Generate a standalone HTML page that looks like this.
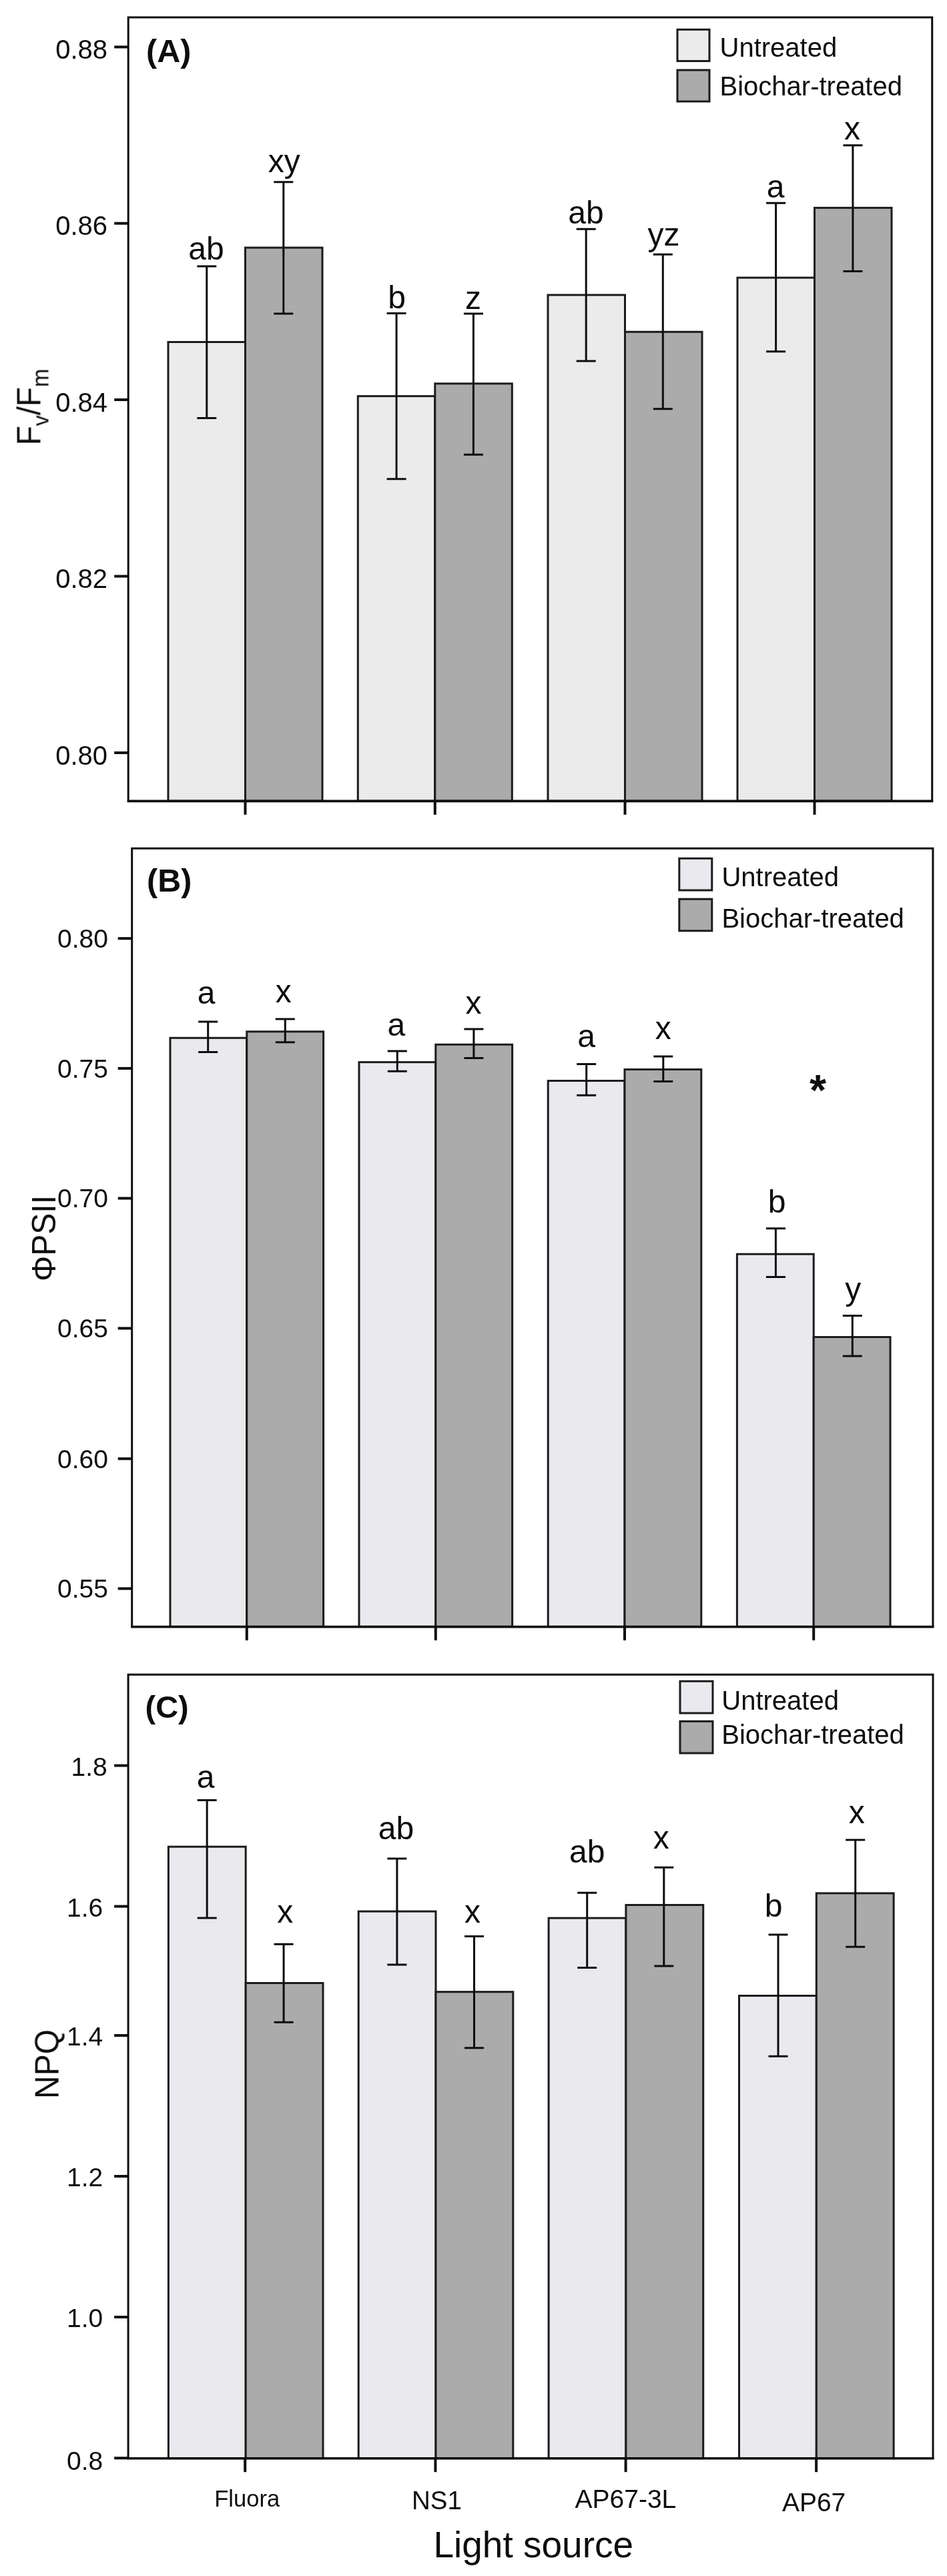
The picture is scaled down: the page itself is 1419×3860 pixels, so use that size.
<!DOCTYPE html>
<html><head><meta charset="utf-8"><title>Figure</title>
<style>html,body{margin:0;padding:0;background:#fff}svg{display:block}text{font-family:"Liberation Sans",Arial,sans-serif;fill:#111}</style>
</head><body>
<svg width="1419" height="3860" viewBox="0 0 1419 3860">
<defs><filter id="soft" x="0" y="0" width="1419" height="3860" filterUnits="userSpaceOnUse"><feGaussianBlur stdDeviation="0.55"/></filter></defs>
<rect width="1419" height="3860" fill="#fff"/>
<g filter="url(#soft)">
<rect x="252.0" y="512.5" width="115.5" height="687.7" fill="#ebebeb" stroke="#1c1c1c" stroke-width="3"/>
<rect x="367.5" y="371.1" width="115.5" height="829.1" fill="#ababab" stroke="#1c1c1c" stroke-width="3"/>
<rect x="536.3" y="593.6" width="115.5" height="606.6" fill="#ebebeb" stroke="#1c1c1c" stroke-width="3"/>
<rect x="651.8" y="574.8" width="115.5" height="625.4" fill="#ababab" stroke="#1c1c1c" stroke-width="3"/>
<rect x="821.0" y="442.0" width="115.5" height="758.2" fill="#ebebeb" stroke="#1c1c1c" stroke-width="3"/>
<rect x="936.5" y="497.3" width="115.5" height="702.9" fill="#ababab" stroke="#1c1c1c" stroke-width="3"/>
<rect x="1105.0" y="416.1" width="115.5" height="784.1" fill="#ebebeb" stroke="#1c1c1c" stroke-width="3"/>
<rect x="1220.5" y="311.4" width="115.5" height="888.8" fill="#ababab" stroke="#1c1c1c" stroke-width="3"/>
<path d="M309.8 399.0V626.5M295.3 399.0H324.3M295.3 626.5H324.3" stroke="#111" stroke-width="3" fill="none"/>
<path d="M424.8 272.8V470.0M410.3 272.8H439.3M410.3 470.0H439.3" stroke="#111" stroke-width="3" fill="none"/>
<path d="M594.1 469.4V717.8M579.6 469.4H608.6M579.6 717.8H608.6" stroke="#111" stroke-width="3" fill="none"/>
<path d="M709.4 469.9V681.3M694.9 469.9H723.9M694.9 681.3H723.9" stroke="#111" stroke-width="3" fill="none"/>
<path d="M878.2 343.2V540.9M863.7 343.2H892.7M863.7 540.9H892.7" stroke="#111" stroke-width="3" fill="none"/>
<path d="M993.3 381.2V612.8M978.8 381.2H1007.8M978.8 612.8H1007.8" stroke="#111" stroke-width="3" fill="none"/>
<path d="M1162.6 304.3V526.8M1148.1 304.3H1177.1M1148.1 526.8H1177.1" stroke="#111" stroke-width="3" fill="none"/>
<path d="M1277.9 217.8V406.4M1263.4 217.8H1292.4M1263.4 406.4H1292.4" stroke="#111" stroke-width="3" fill="none"/>
<rect x="192.2" y="26.0" width="1204.5" height="1174.2" fill="none" stroke="#111" stroke-width="3"/>
<line x1="190.7" x2="1398.2" y1="1200.5" y2="1200.5" stroke="#111" stroke-width="3.4"/>
<line x1="171.2" x2="192.2" y1="70.4" y2="70.4" stroke="#111" stroke-width="4"/>
<text x="161.0" y="88.0" font-size="40" text-anchor="end">0.88</text>
<line x1="171.2" x2="192.2" y1="334.7" y2="334.7" stroke="#111" stroke-width="4"/>
<text x="161.0" y="352.3" font-size="40" text-anchor="end">0.86</text>
<line x1="171.2" x2="192.2" y1="599.0" y2="599.0" stroke="#111" stroke-width="4"/>
<text x="161.0" y="616.6" font-size="40" text-anchor="end">0.84</text>
<line x1="171.2" x2="192.2" y1="863.5" y2="863.5" stroke="#111" stroke-width="4"/>
<text x="161.0" y="881.1" font-size="40" text-anchor="end">0.82</text>
<line x1="171.2" x2="192.2" y1="1128.0" y2="1128.0" stroke="#111" stroke-width="4"/>
<text x="161.0" y="1145.6" font-size="40" text-anchor="end">0.80</text>
<line x1="367.5" x2="367.5" y1="1200.2" y2="1220.8" stroke="#111" stroke-width="4"/>
<line x1="651.8" x2="651.8" y1="1200.2" y2="1220.8" stroke="#111" stroke-width="4"/>
<line x1="936.5" x2="936.5" y1="1200.2" y2="1220.8" stroke="#111" stroke-width="4"/>
<line x1="1220.5" x2="1220.5" y1="1200.2" y2="1220.8" stroke="#111" stroke-width="4"/>
<text x="309.0" y="388.8" font-size="48" text-anchor="middle">ab</text>
<text x="425.8" y="258.0" font-size="48" text-anchor="middle">xy</text>
<text x="594.6" y="461.8" font-size="48" text-anchor="middle">b</text>
<text x="709.0" y="463.3" font-size="48" text-anchor="middle">z</text>
<text x="878.0" y="335.0" font-size="48" text-anchor="middle">ab</text>
<text x="994.5" y="367.5" font-size="48" text-anchor="middle">yz</text>
<text x="1162.0" y="296.2" font-size="48" text-anchor="middle">a</text>
<text x="1277.0" y="208.5" font-size="48" text-anchor="middle">x</text>
<text x="219.0" y="93.2" font-size="48.5" font-weight="bold">(A)</text>
<rect x="1015.0" y="44.3" width="48.0" height="47.2" fill="#ebebeb" stroke="#1a1a1a" stroke-width="3"/>
<rect x="1015.0" y="105.0" width="48.0" height="47.0" fill="#ababab" stroke="#1a1a1a" stroke-width="3"/>
<text x="1078.5" y="85.3" font-size="40">Untreated</text>
<text x="1078.5" y="142.9" font-size="40">Biochar-treated</text>
<text transform="translate(60.3 667.3) rotate(-90) scale(1 1.04)" font-size="48" letter-spacing="-0.2">F<tspan font-size="32" dy="12">v</tspan><tspan dy="-12">/F</tspan><tspan font-size="33" dy="12">m</tspan></text>
<rect x="255.0" y="1555.3" width="114.8" height="882.1" fill="#e9e9ee" stroke="#1c1c1c" stroke-width="3"/>
<rect x="369.8" y="1545.8" width="114.8" height="891.6" fill="#ababab" stroke="#1c1c1c" stroke-width="3"/>
<rect x="538.0" y="1591.6" width="114.8" height="845.8" fill="#e9e9ee" stroke="#1c1c1c" stroke-width="3"/>
<rect x="652.8" y="1565.2" width="114.8" height="872.2" fill="#ababab" stroke="#1c1c1c" stroke-width="3"/>
<rect x="821.2" y="1619.5" width="114.8" height="817.9" fill="#e9e9ee" stroke="#1c1c1c" stroke-width="3"/>
<rect x="936.0" y="1602.5" width="114.8" height="834.9" fill="#ababab" stroke="#1c1c1c" stroke-width="3"/>
<rect x="1104.4" y="1879.2" width="114.8" height="558.2" fill="#e9e9ee" stroke="#1c1c1c" stroke-width="3"/>
<rect x="1219.2" y="2003.5" width="114.8" height="433.9" fill="#ababab" stroke="#1c1c1c" stroke-width="3"/>
<path d="M311.7 1530.9V1576.5M297.2 1530.9H326.2M297.2 1576.5H326.2" stroke="#111" stroke-width="3" fill="none"/>
<path d="M427.3 1526.9V1561.8M412.8 1526.9H441.8M412.8 1561.8H441.8" stroke="#111" stroke-width="3" fill="none"/>
<path d="M595.3 1574.9V1605.3M580.8 1574.9H609.8M580.8 1605.3H609.8" stroke="#111" stroke-width="3" fill="none"/>
<path d="M709.9 1541.9V1585.5M695.4 1541.9H724.4M695.4 1585.5H724.4" stroke="#111" stroke-width="3" fill="none"/>
<path d="M878.7 1594.6V1641.3M864.2 1594.6H893.2M864.2 1641.3H893.2" stroke="#111" stroke-width="3" fill="none"/>
<path d="M993.8 1583.0V1620.4M979.3 1583.0H1008.3M979.3 1620.4H1008.3" stroke="#111" stroke-width="3" fill="none"/>
<path d="M1162.4 1840.7V1913.4M1147.9 1840.7H1176.9M1147.9 1913.4H1176.9" stroke="#111" stroke-width="3" fill="none"/>
<path d="M1277.3 1971.4V2032.0M1262.8 1971.4H1291.8M1262.8 2032.0H1291.8" stroke="#111" stroke-width="3" fill="none"/>
<rect x="197.7" y="1271.3" width="1200.2" height="1166.1" fill="none" stroke="#111" stroke-width="3"/>
<line x1="196.2" x2="1399.4" y1="2437.7" y2="2437.7" stroke="#111" stroke-width="3.4"/>
<line x1="176.7" x2="197.7" y1="1406.2" y2="1406.2" stroke="#111" stroke-width="4"/>
<text x="162.0" y="1420.0" font-size="39" text-anchor="end">0.80</text>
<line x1="176.7" x2="197.7" y1="1600.9" y2="1600.9" stroke="#111" stroke-width="4"/>
<text x="162.0" y="1614.7" font-size="39" text-anchor="end">0.75</text>
<line x1="176.7" x2="197.7" y1="1795.6" y2="1795.6" stroke="#111" stroke-width="4"/>
<text x="162.0" y="1809.4" font-size="39" text-anchor="end">0.70</text>
<line x1="176.7" x2="197.7" y1="1990.4" y2="1990.4" stroke="#111" stroke-width="4"/>
<text x="162.0" y="2004.2" font-size="39" text-anchor="end">0.65</text>
<line x1="176.7" x2="197.7" y1="2185.8" y2="2185.8" stroke="#111" stroke-width="4"/>
<text x="162.0" y="2199.6" font-size="39" text-anchor="end">0.60</text>
<line x1="176.7" x2="197.7" y1="2380.4" y2="2380.4" stroke="#111" stroke-width="4"/>
<text x="162.0" y="2394.2" font-size="39" text-anchor="end">0.55</text>
<line x1="369.8" x2="369.8" y1="2437.4" y2="2458.0" stroke="#111" stroke-width="4"/>
<line x1="652.8" x2="652.8" y1="2437.4" y2="2458.0" stroke="#111" stroke-width="4"/>
<line x1="936.0" x2="936.0" y1="2437.4" y2="2458.0" stroke="#111" stroke-width="4"/>
<line x1="1219.2" x2="1219.2" y1="2437.4" y2="2458.0" stroke="#111" stroke-width="4"/>
<text x="309.2" y="1503.5" font-size="48" text-anchor="middle">a</text>
<text x="424.7" y="1502.0" font-size="48" text-anchor="middle">x</text>
<text x="593.8" y="1551.5" font-size="48" text-anchor="middle">a</text>
<text x="709.4" y="1519.1" font-size="48" text-anchor="middle">x</text>
<text x="878.7" y="1569.3" font-size="48" text-anchor="middle">a</text>
<text x="993.8" y="1556.6" font-size="48" text-anchor="middle">x</text>
<text x="1164.0" y="1816.9" font-size="48" text-anchor="middle">b</text>
<text x="1278.3" y="1947.6" font-size="48" text-anchor="middle">y</text>
<text x="220.0" y="1335.8" font-size="48.5" font-weight="bold">(B)</text>
<rect x="1017.8" y="1286.3" width="49.0" height="47.7" fill="#e9e9ee" stroke="#1a1a1a" stroke-width="3"/>
<rect x="1017.8" y="1347.2" width="49.0" height="47.6" fill="#ababab" stroke="#1a1a1a" stroke-width="3"/>
<text x="1081.4" y="1328.0" font-size="40">Untreated</text>
<text x="1081.4" y="1389.6" font-size="40">Biochar-treated</text>
<text transform="translate(82.8 1920) rotate(-90) scale(1 1.04)" font-size="48">ΦPSII</text>
<rect x="252.4" y="2767.2" width="115.8" height="916.4" fill="#e9e9ee" stroke="#1c1c1c" stroke-width="3"/>
<rect x="368.2" y="2971.5" width="115.8" height="712.1" fill="#ababab" stroke="#1c1c1c" stroke-width="3"/>
<rect x="537.2" y="2864.1" width="115.8" height="819.5" fill="#e9e9ee" stroke="#1c1c1c" stroke-width="3"/>
<rect x="653.0" y="2984.7" width="115.8" height="698.9" fill="#ababab" stroke="#1c1c1c" stroke-width="3"/>
<rect x="822.1" y="2874.1" width="115.8" height="809.5" fill="#e9e9ee" stroke="#1c1c1c" stroke-width="3"/>
<rect x="937.9" y="2854.5" width="115.8" height="829.1" fill="#ababab" stroke="#1c1c1c" stroke-width="3"/>
<rect x="1107.5" y="2990.5" width="115.8" height="693.1" fill="#e9e9ee" stroke="#1c1c1c" stroke-width="3"/>
<rect x="1223.3" y="2836.9" width="115.8" height="846.7" fill="#ababab" stroke="#1c1c1c" stroke-width="3"/>
<path d="M310.2 2697.4V2874.0M295.7 2697.4H324.7M295.7 2874.0H324.7" stroke="#111" stroke-width="3" fill="none"/>
<path d="M425.1 2913.2V3030.3M410.6 2913.2H439.6M410.6 3030.3H439.6" stroke="#111" stroke-width="3" fill="none"/>
<path d="M594.9 2785.0V2944.1M580.4 2785.0H609.4M580.4 2944.1H609.4" stroke="#111" stroke-width="3" fill="none"/>
<path d="M710.5 2901.6V3068.8M696.0 2901.6H725.0M696.0 3068.8H725.0" stroke="#111" stroke-width="3" fill="none"/>
<path d="M879.7 2836.2V2948.6M865.2 2836.2H894.2M865.2 2948.6H894.2" stroke="#111" stroke-width="3" fill="none"/>
<path d="M994.8 2798.3V2946.0M980.3 2798.3H1009.3M980.3 2946.0H1009.3" stroke="#111" stroke-width="3" fill="none"/>
<path d="M1166.0 2899.0V3081.3M1151.5 2899.0H1180.5M1151.5 3081.3H1180.5" stroke="#111" stroke-width="3" fill="none"/>
<path d="M1281.7 2757.1V2917.3M1267.2 2757.1H1296.2M1267.2 2917.3H1296.2" stroke="#111" stroke-width="3" fill="none"/>
<rect x="192.1" y="2509.3" width="1205.9" height="1174.3" fill="none" stroke="#111" stroke-width="3"/>
<line x1="190.6" x2="1399.5" y1="3683.9" y2="3683.9" stroke="#111" stroke-width="3.4"/>
<line x1="171.1" x2="192.1" y1="2645.6" y2="2645.6" stroke="#111" stroke-width="4"/>
<text x="160.8" y="2660.5" font-size="39" text-anchor="end">1.8</text>
<line x1="171.1" x2="192.1" y1="2856.6" y2="2856.6" stroke="#111" stroke-width="4"/>
<text x="154.3" y="2871.5" font-size="39" text-anchor="end">1.6</text>
<line x1="171.1" x2="192.1" y1="3050.0" y2="3050.0" stroke="#111" stroke-width="4"/>
<text x="154.3" y="3064.9" font-size="39" text-anchor="end">1.4</text>
<line x1="171.1" x2="192.1" y1="3261.0" y2="3261.0" stroke="#111" stroke-width="4"/>
<text x="154.3" y="3275.9" font-size="39" text-anchor="end">1.2</text>
<line x1="171.1" x2="192.1" y1="3472.0" y2="3472.0" stroke="#111" stroke-width="4"/>
<text x="154.3" y="3486.9" font-size="39" text-anchor="end">1.0</text>
<line x1="171.1" x2="192.1" y1="3683.3" y2="3683.3" stroke="#111" stroke-width="4"/>
<text x="154.3" y="3701.0" font-size="39" text-anchor="end">0.8</text>
<line x1="367.2" x2="367.2" y1="3683.6" y2="3704.2" stroke="#111" stroke-width="4"/>
<line x1="652.4" x2="652.4" y1="3683.6" y2="3704.2" stroke="#111" stroke-width="4"/>
<line x1="937.6" x2="937.6" y1="3683.6" y2="3704.2" stroke="#111" stroke-width="4"/>
<line x1="1223.1" x2="1223.1" y1="3683.6" y2="3704.2" stroke="#111" stroke-width="4"/>
<text x="308.2" y="2678.9" font-size="48" text-anchor="middle">a</text>
<text x="427.2" y="2881.1" font-size="48" text-anchor="middle">x</text>
<text x="593.4" y="2755.9" font-size="48" text-anchor="middle">ab</text>
<text x="708.0" y="2881.1" font-size="48" text-anchor="middle">x</text>
<text x="879.7" y="2790.5" font-size="48" text-anchor="middle">ab</text>
<text x="990.8" y="2770.2" font-size="48" text-anchor="middle">x</text>
<text x="1159.0" y="2871.5" font-size="48" text-anchor="middle">b</text>
<text x="1283.7" y="2731.6" font-size="48" text-anchor="middle">x</text>
<text x="217.5" y="2573.6" font-size="47" font-weight="bold">(C)</text>
<rect x="1019.0" y="2519.2" width="49.0" height="47.8" fill="#e9e9ee" stroke="#1a1a1a" stroke-width="3"/>
<rect x="1019.0" y="2579.3" width="49.0" height="47.7" fill="#ababab" stroke="#1a1a1a" stroke-width="3"/>
<text x="1081.3" y="2561.7" font-size="40">Untreated</text>
<text x="1081.3" y="2612.7" font-size="40">Biochar-treated</text>
<text transform="translate(87.4 3145) rotate(-90) scale(1 1.04)" font-size="48">NPQ</text>
<text x="1225.6" y="1655.6" font-size="64.5" font-weight="bold" text-anchor="middle">*</text>
<text x="370.2" y="3756.4" font-size="34.6" text-anchor="middle">Fluora</text>
<text x="654.5" y="3760.4" font-size="38.5" text-anchor="middle">NS1</text>
<text x="937.4" y="3758.2" font-size="39" text-anchor="middle">AP67-3L</text>
<text x="1219.6" y="3762.5" font-size="39" text-anchor="middle">AP67</text>
<text x="799.3" y="3831.5" font-size="55" text-anchor="middle">Light source</text>
</g>
</svg>
</body></html>
